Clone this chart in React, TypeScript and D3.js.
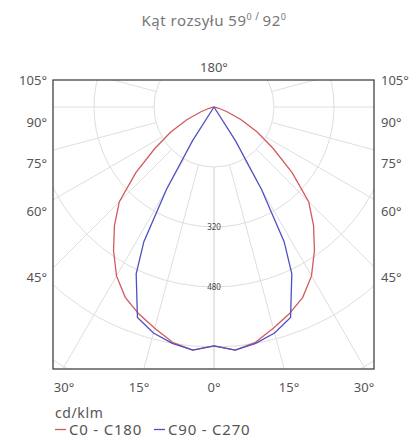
import React from "react";
import * as d3 from "d3";

// ---- data (cd/klm) ----
const redAngles = [0, 5, 10, 15, 20, 25, 30, 35, 40, 45, 50, 55, 60, 65, 70, 75, 80, 85, 90];
const c0c180 = [637, 651, 637, 611, 587, 560, 520, 467, 413, 357, 272, 192, 133, 80, 37, 13, 3, 0, 0];
const blueAngles = [0, 5, 10, 15, 20, 25, 27.5, 30, 32.5, 35, 40, 50, 60, 70, 80, 90];
const c90c270 = [637, 651, 640, 624, 597, 491, 405, 253, 107, 0, 0, 0, 0, 0, 0, 0];
const ringValues = [160, 320, 480, 640, 800, 960];
const ringLabels = [320, 480];
const spokeAngles = [0, 15, 30, 45, 60, 75, 90, 105, 120, 135, 150, 165, 180];
const sideTicks = [105, 90, 75, 60, 45];
const bottomTicks = [-30, -15, 0, 15, 30];
const seriesNames = ["C0 - C180", "C90 - C270"];

const W = 412;
const H = 438;
const cx = 214;
const cy = 107;
const box = { x0: 53, x1: 374, y0: 80, y1: 369 };
const RED = "#d35a5c";
const BLUE = "#5050c0";
const FONT = "'Noto Sans', sans-serif";

const rScale = d3.scaleLinear().domain([0, 160]).range([0, 60]);
const rad = (deg: number) => (deg * Math.PI) / 180;

function curvePath(angles: number[], values: number[]) {
  const pts: [number, number][] = [];
  for (let i = angles.length - 1; i >= 0; i--) pts.push([Math.PI + rad(angles[i]), rScale(values[i])]);
  for (let i = 1; i < angles.length; i++) pts.push([Math.PI - rad(angles[i]), rScale(values[i])]);
  const line = d3.lineRadial<[number, number]>().angle((d) => d[0]).radius((d) => d[1]);
  return line(pts) || "";
}

export default function App() {
  const innerR = rScale(ringValues[0]);
  const spokes: { x1: number; y1: number; x2: number; y2: number }[] = [];
  spokeAngles.forEach((a) => {
    [1, -1].forEach((s) => {
      const t = rad(a);
      const dx = s * Math.sin(t);
      const dy = Math.cos(t);
      spokes.push({ x1: cx + dx * innerR, y1: cy + dy * innerR, x2: cx + dx * 600, y2: cy + dy * 600 });
    });
  });
  const sideY = (a: number) => cy + 15 + 155 / Math.tan(rad(a));
  const bottomX = (a: number) => cx + 5 * a;

  return (
    <svg width={W} height={H} style={{ position: "absolute", left: 0, top: 0, background: "#fff" }} fontFamily={FONT}>
      <defs>
        <clipPath id="plotClip">
          <rect x={box.x0} y={box.y0} width={box.x1 - box.x0} height={box.y1 - box.y0} />
        </clipPath>
      </defs>
      <text x={cx} y={26} textAnchor="middle" fontSize={15} fill="#777" letterSpacing={0.5}>
        Kąt rozsyłu 59
        <tspan fontSize={9} dy={-6}>0</tspan>
        <tspan fontSize={10}> / </tspan>
        <tspan fontSize={15} dy={6}>92</tspan>
        <tspan fontSize={9} dy={-6}>0</tspan>
      </text>
      <g clipPath="url(#plotClip)">
        {ringValues.map((v) => (
          <circle key={v} cx={cx} cy={cy} r={rScale(v)} fill="none" stroke="#dedede" strokeWidth={1} />
        ))}
        {spokes.map((s, i) => (
          <line key={i} x1={s.x1} y1={s.y1} x2={s.x2} y2={s.y2} stroke="#dedede" strokeWidth={1} />
        ))}
        {ringLabels.map((v) => (
          <text key={v} x={cx} y={cy + rScale(v) + 3} textAnchor="middle" fontSize={8} fill="#444">
            {v}
          </text>
        ))}
        <path d={curvePath(redAngles, c0c180)} transform={`translate(${cx},${cy})`} fill="none" stroke={RED} strokeWidth={1.3} />
        <path d={curvePath(blueAngles, c90c270)} transform={`translate(${cx},${cy})`} fill="none" stroke={BLUE} strokeWidth={1.3} />
      </g>
      <rect x={box.x0} y={box.y0} width={box.x1 - box.x0} height={box.y1 - box.y0} fill="none" stroke="#333" strokeWidth={1.2} />
      <text x={cx} y={72} textAnchor="middle" fontSize={13} fill="#555">180°</text>
      {sideTicks.map((a) => (
        <g key={a}>
          <text x={box.x0 - 6} y={sideY(a) + 4.5} textAnchor="end" fontSize={13} fill="#555">{a}°</text>
          <text x={box.x1 + 7} y={sideY(a) + 4.5} textAnchor="start" fontSize={13} fill="#555">{a}°</text>
        </g>
      ))}
      {bottomTicks.map((a) => (
        <text key={a} x={bottomX(a)} y={392} textAnchor="middle" fontSize={13} fill="#555">{Math.abs(a)}°</text>
      ))}
      <text x={55} y={418} fontSize={14} fill="#555" letterSpacing={0.6}>cd/klm</text>
      <line x1={55} x2={66} y1={429.5} y2={429.5} stroke={RED} strokeWidth={1.3} />
      <text x={69} y={435} fontSize={15} fill="#555" letterSpacing={0.8}>{seriesNames[0]}</text>
      <line x1={154} x2={165} y1={429.5} y2={429.5} stroke={BLUE} strokeWidth={1.3} />
      <text x={168} y={435} fontSize={15} fill="#555" letterSpacing={0.8}>{seriesNames[1]}</text>
    </svg>
  );
}
